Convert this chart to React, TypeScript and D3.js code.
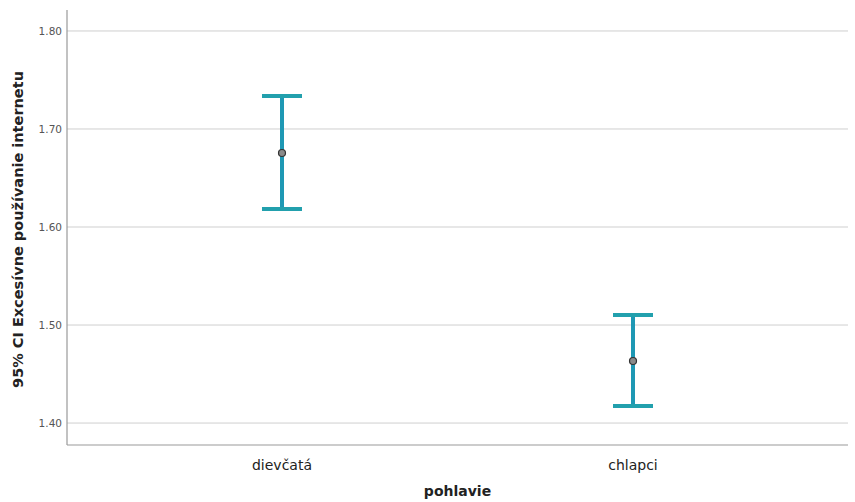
import React from 'react';
import * as d3 from 'd3';

// chart data
const categories = ['dievčatá', 'chlapci'];
const means = [1.6755, 1.4633];
const lowerCI = [1.6184, 1.4173];
const upperCI = [1.7337, 1.5102];
const yTicks = [1.4, 1.5, 1.6, 1.7, 1.8];

const width = 855;
const height = 502;
const margin = { left: 67, right: 7, top: 10, bottom: 57 };
const fontFamily = '"DejaVu Sans", "Open Sans", sans-serif';

export default function App() {
    const x = d3.scalePoint<string>()
        .domain(categories)
        .range([margin.left, width - margin.right])
        .padding(0.6125);
    const y = d3.scaleLinear()
        .domain([1.3776, 1.8214])
        .range([height - margin.bottom, margin.top]);
    const capHalf = 20;
    const fmt = d3.format('.2f');

    return (
        <svg width={width} height={height}
             style={{ position: 'absolute', left: 0, top: 0, background: '#fff' }}>
            {yTicks.map(t => (
                <g key={t}>
                    <line x1={margin.left} x2={width - margin.right} y1={y(t)} y2={y(t)}
                          stroke="#cfcfcf" strokeWidth={1} />
                    <text x={margin.left - 5} y={y(t)} dy="0.35em" textAnchor="end"
                          fontSize={10.5} fill="#555" fontFamily={fontFamily}>{fmt(t)}</text>
                </g>
            ))}
            {/* axes */}
            <line x1={margin.left} x2={margin.left} y1={margin.top} y2={height - margin.bottom}
                  stroke="#999" strokeWidth={1.2} />
            <line x1={margin.left} x2={width - margin.right} y1={height - margin.bottom} y2={height - margin.bottom}
                  stroke="#999" strokeWidth={1.2} />

            {categories.map((c, i) => {
                const cx = x(c) as number;
                return (
                    <g key={c}>
                        <line x1={cx} x2={cx} y1={y(upperCI[i])} y2={y(lowerCI[i])}
                              stroke="#1e98b4" strokeWidth={4} />
                        <line x1={cx - capHalf} x2={cx + capHalf} y1={y(upperCI[i])} y2={y(upperCI[i])}
                              stroke="#22a0ad" strokeWidth={4} />
                        <line x1={cx - capHalf} x2={cx + capHalf} y1={y(lowerCI[i])} y2={y(lowerCI[i])}
                              stroke="#22a0ad" strokeWidth={4} />
                        <circle cx={cx} cy={y(means[i])} r={3.5} fill="#8a8a8a" stroke="#333" strokeWidth={1.2} />
                        <text x={cx} y={height - margin.bottom + 25} textAnchor="middle"
                              fontSize={14} fill="#222" fontFamily={fontFamily}>{c}</text>
                    </g>
                );
            })}

            <text x={(margin.left + width - margin.right) / 2} y={496} textAnchor="middle"
                  fontSize={14} fontWeight="bold" fill="#222" fontFamily={fontFamily}>pohlavie</text>
            <text transform={`translate(23,${(margin.top + height - margin.bottom) / 2 + 2}) rotate(-90)`}
                  textAnchor="middle" fontSize={14.5} fontWeight="bold" fill="#222"
                  fontFamily={fontFamily}>95% CI Excesívne používanie internetu</text>
        </svg>
    );
}
